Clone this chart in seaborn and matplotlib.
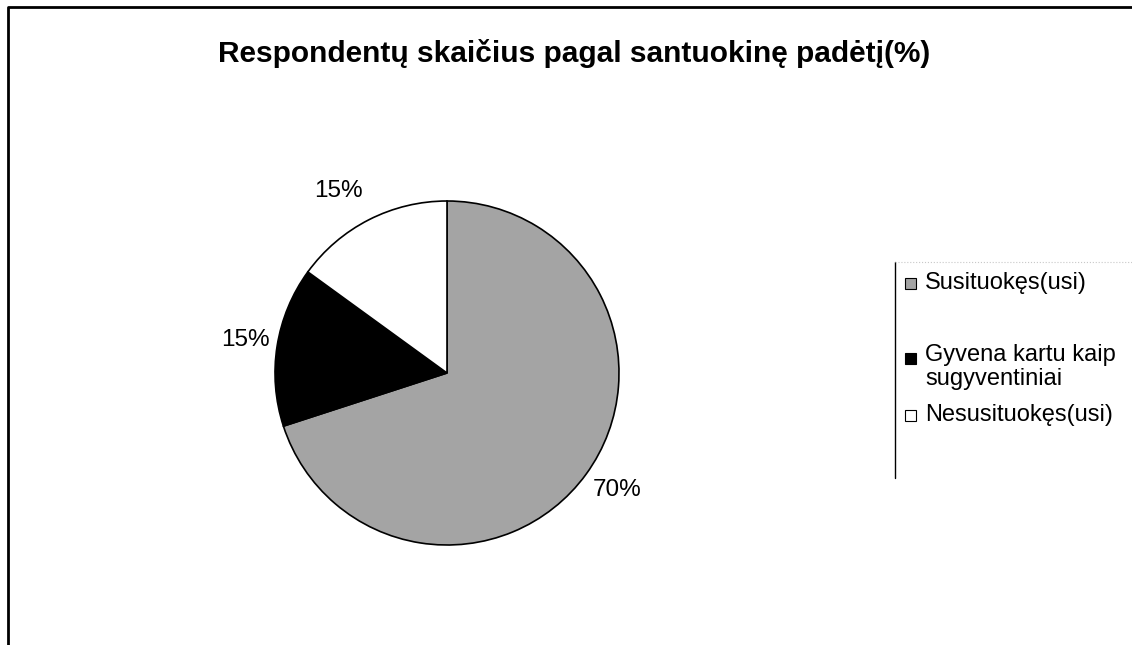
import matplotlib
matplotlib.use("Agg")
import matplotlib.pyplot as plt
from matplotlib.lines import Line2D
from matplotlib.patches import Rectangle
import seaborn as sns

# data
categories = ["Susituokęs(usi)", "Gyvena kartu kaip\nsugyventiniai", "Nesusituokęs(usi)"]
shares = [70, 15, 15]
colors = ["#a4a4a4", "#000000", "#ffffff"]
title = "Respondentų skaičius pagal santuokinę padėtį(%)"

sns.set_theme(style="white")
plt.rcParams["font.family"] = ["Liberation Sans", "DejaVu Sans"]

W, H = 1132, 645
fig = plt.figure(figsize=(W / 100, H / 100), dpi=100)
fig.patch.set_facecolor("white")

# pie axes, centred where the original sits
cx, cy, r = 447, 373, 172
ax = fig.add_axes([(cx - r) / W, 1 - (cy + r) / H, 2 * r / W, 2 * r / H])
wedges, texts = ax.pie(
    shares,
    colors=colors,
    startangle=90,
    counterclock=False,
    labels=[f"{s}%" for s in shares],
    labeldistance=1.2,
    wedgeprops=dict(edgecolor="black", linewidth=1.2),
    textprops=dict(fontsize=17.5, color="black"),
)
ax.set_aspect("equal")
ax.set_xlim(-1, 1)
ax.set_ylim(-1, 1)
ax.axis("off")

# excel's label placement (in pie-radius units)
label_pos = [(0.85, -0.68), (-1.03, 0.19), (-0.49, 1.06)]
for t, p in zip(texts, label_pos):
    t.set_position(p)
    t.set_va("center")

fig.text(574 / W, 1 - 54 / H, title, ha="center", va="center",
         fontsize=21.5, fontweight="bold", color="black")

# legend, drawn by hand to follow excel's row layout
swatch_y = [283, 358, 415]
text_y = [283, 367, 415]
sw = 11
for lab, col, sy, ty in zip(categories, colors, swatch_y, text_y):
    fig.add_artist(Rectangle((905 / W, 1 - (sy + sw / 2) / H), sw / W, sw / H,
                             transform=fig.transFigure, facecolor=col,
                             edgecolor="black", lw=0.8))
    fig.text(925 / W, 1 - ty / H, lab, ha="left", va="center",
             fontsize=17, color="black", linespacing=1.1)

# legend box: solid left edge, faint dotted top
fig.add_artist(Line2D([895 / W, 895 / W], [1 - 262 / H, 1 - 478 / H],
                      transform=fig.transFigure, color="black", lw=1))
fig.add_artist(Line2D([895 / W, 1.0], [1 - 262 / H, 1 - 262 / H],
                      transform=fig.transFigure, color="#c8c8c8", lw=0.8, ls=":"))
# chart-area border (top and left visible)
fig.add_artist(Line2D([8 / W, 8 / W, 1.0], [0.0, 1 - 7 / H, 1 - 7 / H],
                      transform=fig.transFigure, color="black", lw=2))

fig.savefig("out.png", dpi=100, facecolor="white")
